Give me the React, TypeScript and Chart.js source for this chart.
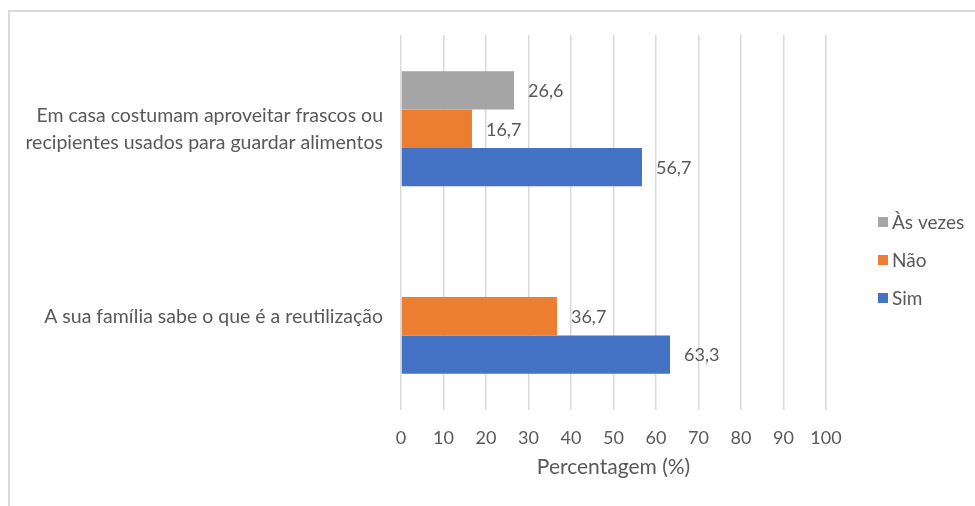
import React, { useEffect, useRef } from "react";
import { Chart, registerables } from "chart.js";

Chart.register(...registerables);

const categories: (string | string[])[] = [
  ["Em casa costumam aproveitar frascos ou", "recipientes usados para guardar alimentos"],
  "A sua família sabe o que é a reutilização",
];
const seriesNames = ["Às vezes", "Não", "Sim"];
const asVezes: (number | null)[] = [26.6, null];
const nao: (number | null)[] = [16.7, 36.7];
const sim: (number | null)[] = [56.7, 63.3];
const colors = ["#A5A5A5", "#ED7D31", "#4472C4"];
const xTicks = [0, 10, 20, 30, 40, 50, 60, 70, 80, 90, 100];

const FONT = "Lato, 'Open Sans', sans-serif";
const TEXT = "#595959";

const framePlugin = {
  id: "frame",
  beforeDraw(chart: any) {
    const ctx = chart.ctx;
    ctx.save();
    ctx.fillStyle = "#ffffff";
    ctx.fillRect(0, 0, chart.width, chart.height);
    ctx.fillStyle = "#D9D9D9";
    ctx.fillRect(8, 10, chart.width - 8, 2);
    ctx.fillRect(8, 10, 2, chart.height - 10);
    ctx.restore();
  },
};

const labelPlugin = {
  id: "valueLabels",
  afterDatasetsDraw(chart: any) {
    const ctx = chart.ctx;
    ctx.save();
    ctx.font = `18px ${FONT}`;
    ctx.fillStyle = TEXT;
    ctx.textAlign = "left";
    ctx.textBaseline = "middle";
    chart.data.datasets.forEach((ds: any, i: number) => {
      const meta = chart.getDatasetMeta(i);
      meta.data.forEach((bar: any, j: number) => {
        const v = ds.data[j];
        if (v === null || v === undefined) return;
        ctx.fillText(v.toFixed(1).replace(".", ","), bar.x + 14, bar.y + 1);
      });
    });
    ctx.restore();
  },
};

const legendPlugin = {
  id: "customLegend",
  afterDraw(chart: any) {
    const ctx = chart.ctx;
    ctx.save();
    ctx.font = `19px ${FONT}`;
    ctx.textAlign = "left";
    ctx.textBaseline = "middle";
    chart.data.datasets.forEach((ds: any, i: number) => {
      const y = 222 + i * 38;
      ctx.fillStyle = ds.backgroundColor;
      ctx.fillRect(878, y - 5, 10, 10);
      ctx.fillStyle = TEXT;
      ctx.fillText(ds.label, 892, y + 1);
    });
    ctx.restore();
  },
};

export default function App() {
  const ref = useRef<HTMLCanvasElement | null>(null);
  useEffect(() => {
    if (!ref.current) return;
    const values = [asVezes, nao, sim];
    const chart = new Chart(ref.current, {
      type: "bar",
      data: {
        labels: categories,
        datasets: seriesNames.map((name, i) => ({
          label: name,
          data: values[i],
          backgroundColor: colors[i],
          borderWidth: 0,
          barPercentage: 1,
          categoryPercentage: 0.613,
        })),
      },
      options: {
        indexAxis: "y",
        responsive: false,
        animation: false,
        layout: { padding: { left: 0, right: 149, top: 35, bottom: 24 } },
        plugins: { legend: { display: false }, tooltip: { enabled: false } },
        scales: {
          x: {
            min: 0,
            max: 100,
            afterBuildTicks: (axis: any) => {
              axis.ticks = xTicks.map((v) => ({ value: v }));
            },
            afterFit: (axis: any) => {
              axis.height = 72;
            },
            grid: { color: "#D9D9D9", lineWidth: 1.5, drawTicks: false },
            border: { display: false },
            ticks: {
              padding: 17,
              color: TEXT,
              font: { family: FONT, size: 18 },
              maxRotation: 0,
            },
            title: {
              display: true,
              text: "Percentagem (%)",
              color: TEXT,
              font: { family: FONT, size: 21 },
              padding: { top: 0, bottom: 2.5 },
            },
          },
          y: {
            afterFit: (axis: any) => {
              axis.width = 401;
            },
            grid: { display: false, drawTicks: false },
            border: { display: false },
            ticks: {
              padding: 18,
              color: TEXT,
              font: { family: FONT, size: 19.5, lineHeight: 1.385 },
            },
          },
        },
      },
      plugins: [framePlugin, labelPlugin, legendPlugin],
    });
    return () => chart.destroy();
  }, []);
  return (
    <div style={{ position: "absolute", left: 0, top: 0, width: 975, height: 506 }}>
      <canvas ref={ref} width={975} height={506} />
    </div>
  );
}
